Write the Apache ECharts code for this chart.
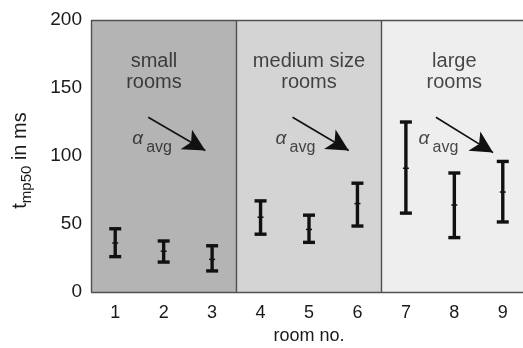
<!DOCTYPE html>
<html>
<head>
<meta charset="utf-8">
<script src="https://cdn.jsdelivr.net/npm/echarts@6/dist/echarts.min.js"></script>
<style>
  html, body { margin: 0; padding: 0; background: #fff; }
  #chart { width: 523px; height: 348px; }
</style>
</head>
<body>
<div id="chart"></div>
<script>
// Room numbers and the t_mp50 spread per room (low, median, high), in ms
const rooms = [1, 2, 3, 4, 5, 6, 7, 8, 9];
const lowValues  = [26, 22, 15.5, 42.5, 36.5, 48.5, 58, 40, 51.5];
const midValues  = [36, 30, 24, 55, 46, 65, 91, 64, 73.5];
const highValues = [46.5, 37.5, 34, 67, 56.5, 80, 125, 87.5, 96];

// Room size groups: [from, to] on the room axis, and shade
const groupNames = ['small\nrooms', 'medium size\nrooms', 'large\nrooms'];
const groupRanges = [[0.5, 3.5], [3.5, 6.5], [6.5, 9.5]];
const groupColors = ['#b4b4b4', '#d4d4d4', '#eeeeee'];
const groupLabelPos = [[1.8, 161.5], [5.0, 161.5], [8.0, 161.5]];
// frame and separator positions
const frameX = [0.5, 3.5, 6.5];
const frameY = [0, 200];

// Trend arrows for alpha_avg: [x0, y0, x1, y1] in data units
const arrows = [[1.68, 128.5, 2.86, 104], [4.66, 128.5, 5.82, 104], [7.62, 128.5, 8.8, 102.5]];
const alphaPos = [[1.35, 113], [4.31, 113], [7.26, 113]];

const yTicks = [0, 50, 100, 150, 200];

const FONT = '"Liberation Sans", Arial, Helvetica, sans-serif';
const chart = echarts.init(document.getElementById('chart'));

const barData = rooms.map((r, i) => [r, lowValues[i], midValues[i], highValues[i]]);

const option = {
  backgroundColor: '#fff',
  animation: false,
  grid: {
    left: 91, top: 20, bottom: 56, width: 436,
    outerBoundsMode: 'none', containLabel: false,
    show: false
  },
  xAxis: {
    type: 'value', min: 0.5, max: 9.5, interval: 1,
    name: 'room no.', nameLocation: 'middle', nameGap: 35,
    nameTextStyle: { fontFamily: FONT, fontSize: 18, color: '#1a1a1a' },
    axisLine: { show: false }, axisTick: { show: false }, splitLine: { show: false },
    axisLabel: {
      fontFamily: FONT, fontSize: 18, color: '#1a1a1a', margin: 12,
      customValues: rooms,
      formatter: v => String(v)
    }
  },
  yAxis: {
    type: 'value', min: 0, max: 200, interval: 50,
    axisLine: { show: false }, axisTick: { show: false }, splitLine: { show: false },
    axisLabel: {
      fontFamily: FONT, fontSize: 19, color: '#1a1a1a', margin: 9,
      formatter: v => yTicks.includes(v) ? String(v) : ''
    },
    name: '{t|t}{s|mp50}{n| in ms}',
    nameLocation: 'middle', nameGap: 57, nameRotate: 90,
    nameTextStyle: {
      fontFamily: FONT, color: '#1a1a1a', padding: [0, 9, 0, 0],
      rich: {
        t: { fontFamily: FONT, fontSize: 20, color: '#1a1a1a', lineHeight: 24, verticalAlign: 'top' },
        s: { fontFamily: FONT, fontSize: 15, color: '#1a1a1a', lineHeight: 24, verticalAlign: 'bottom', padding: [11, 0, 0, 0] },
        n: { fontFamily: FONT, fontSize: 20, color: '#1a1a1a', lineHeight: 24, verticalAlign: 'top' }
      }
    }
  },
  series: [
    {
      // shaded size groups
      type: 'line', data: [], silent: true, z: 1,
      markArea: {
        silent: true,
        data: groupRanges.map((g, i) => [
          { xAxis: g[0], yAxis: 0, itemStyle: { color: groupColors[i], borderWidth: 0 } },
          { xAxis: g[1], yAxis: 200 }
        ])
      }
    },
    {
      // plot frame and group separators
      type: 'line', data: [], silent: true, z: 2,
      markLine: {
        silent: true, symbol: ['none', 'none'],
        lineStyle: { color: '#505050', width: 1.4, type: 'solid' },
        label: { show: false },
        data: frameX.map(x => ({ xAxis: x })).concat(frameY.map(y => ({ yAxis: y })))
      }
    },
    {
      // group titles
      type: 'scatter', symbolSize: 0, silent: true, z: 3,
      data: groupLabelPos.map((p, i) => ({ value: p, name: groupNames[i] })),
      label: {
        show: true, position: 'inside', formatter: p => p.name,
        fontFamily: FONT, fontSize: 20, lineHeight: 21, color: '#1a1a1a', align: 'center'
      }
    },
    {
      // alpha symbol
      type: 'scatter', symbolSize: 0, silent: true, z: 3,
      data: alphaPos,
      label: {
        show: true, position: 'inside', align: 'left', formatter: 'α',
        fontFamily: FONT, fontSize: 19, fontStyle: 'italic', color: '#1a1a1a'
      }
    },
    {
      // "avg" subscript
      type: 'scatter', symbolSize: 0, silent: true, z: 3,
      data: alphaPos,
      label: {
        show: true, position: 'inside', align: 'left', formatter: 'avg', offset: [14, 9],
        fontFamily: FONT, fontSize: 16, color: '#1a1a1a'
      }
    },
    {
      // trend arrows
      type: 'line', data: [], silent: true, z: 4,
      markLine: {
        silent: true, symbol: ['none', 'arrow'], symbolSize: [17, 22],
        lineStyle: { color: '#111', width: 1.6, type: 'solid' },
        label: { show: false },
        data: arrows.map(a => [{ coord: [a[0], a[1]] }, { coord: [a[2], a[3]] }])
      }
    },
    {
      // spread bars per room
      type: 'custom', z: 5, silent: true,
      data: barData,
      encode: { x: 0, y: [1, 2, 3] },
      renderItem: (params, api) => {
        const x = api.value(0);
        const lo = api.coord([x, api.value(1)]);
        const mid = api.coord([x, api.value(2)]);
        const hi = api.coord([x, api.value(3)]);
        const cap = 6;
        const style = { stroke: '#111', lineWidth: 3.4, fill: null };
        return {
          type: 'group',
          children: [
            { type: 'line', shape: { x1: lo[0], y1: lo[1], x2: hi[0], y2: hi[1] }, style },
            { type: 'line', shape: { x1: lo[0] - cap, y1: lo[1], x2: lo[0] + cap, y2: lo[1] }, style },
            { type: 'line', shape: { x1: hi[0] - cap, y1: hi[1], x2: hi[0] + cap, y2: hi[1] }, style },
            { type: 'line', shape: { x1: mid[0] - 3, y1: mid[1], x2: mid[0] + 3, y2: mid[1] }, style: { stroke: '#111', lineWidth: 1.5 } }
          ]
        };
      }
    }
  ]
};

chart.setOption(option);
</script>
</body>
</html>
